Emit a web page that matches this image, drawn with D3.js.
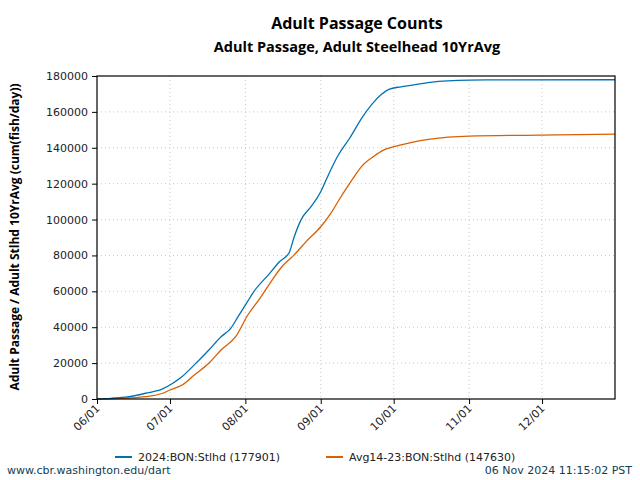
<!DOCTYPE html>
<html>
<head>
<meta charset="utf-8">
<script src="https://cdn.jsdelivr.net/npm/d3@7"></script>
<style>
  body { margin: 0; background: #fff; }
  svg { display: block; }
</style>
</head>
<body>
<svg id="chart"></svg>
<script>
// day offsets from Jun 1 and cumulative counts
var days2024 = [0, 6, 13, 20, 27, 31, 35, 40, 46, 51, 55, 58, 62, 64, 71, 75, 79, 81, 84, 88, 92, 94, 99, 104, 109, 113, 117, 120, 125, 129, 137, 153, 166, 213];
var vals2024 = [0, 400, 1300, 3200, 5600, 8600, 12500, 19000, 27300, 34700, 39400, 45900, 54500, 58900, 70000, 76500, 81500, 90000, 100100, 107200, 115500, 121500, 135400, 145600, 156800, 164200, 169800, 172600, 174000, 174800, 176500, 177700, 177850, 177901];

var daysAvg = [0, 13, 20, 27, 30, 35, 40, 46, 51, 57, 62, 67, 72, 76, 81, 86, 92, 96, 100, 105, 109, 114, 118, 122, 129, 137, 153, 182, 213];
var valsAvg = [0, 550, 1300, 3200, 5000, 7800, 13400, 19900, 27300, 34700, 46800, 56100, 66300, 73700, 80200, 87700, 96000, 103200, 112000, 122400, 129900, 135400, 138800, 140600, 142900, 144800, 146500, 147100, 147630];

var xTickLabels = ["06/01", "07/01", "08/01", "09/01", "10/01", "11/01", "12/01"];
var yTicks = [0, 20000, 40000, 60000, 80000, 100000, 120000, 140000, 160000, 180000];
var seriesNames = ["2024:BON:Stlhd (177901)", "Avg14-23:BON:Stlhd (147630)"];
var seriesColors = ["#0072b2", "#d95f02"];

var w = 640, h = 480;
var margin = { top: 76, bottom: 81, left: 97, right: 25 };

var svg = d3.select("#chart").attr("width", w).attr("height", h);

var start = new Date(2024, 5, 1);
function toDate(d) { return d3.timeDay.offset(start, d); }

var xScale = d3.scaleTime()
  .domain([start, new Date(2024, 11, 31)])
  .range([margin.left, w - margin.right]);

var yScale = d3.scaleLinear()
  .domain([0, 180000])
  .range([h - margin.bottom, margin.top]);

var xTickDates = xTickLabels.map(function(s) {
  return new Date(2024, +s.slice(0, 2) - 1, 1);
});

// grid
svg.append("g")
  .selectAll("line.vg")
  .data(xTickDates.slice(1))
  .enter().append("line")
  .attr("x1", function(d) { return xScale(d); })
  .attr("x2", function(d) { return xScale(d); })
  .attr("y1", margin.top)
  .attr("y2", h - margin.bottom)
  .attr("stroke", "#c8c8c8")
  .attr("stroke-dasharray", "1,3");

svg.append("g")
  .selectAll("line.hg")
  .data(yTicks.slice(1, -1))
  .enter().append("line")
  .attr("x1", margin.left)
  .attr("x2", w - margin.right)
  .attr("y1", function(d) { return yScale(d); })
  .attr("y2", function(d) { return yScale(d); })
  .attr("stroke", "#c8c8c8")
  .attr("stroke-dasharray", "1,3");

// lines
var line = d3.line()
  .x(function(d) { return xScale(toDate(d[0])); })
  .y(function(d) { return yScale(d[1]); })
  .curve(d3.curveMonotoneX);

svg.append("path")
  .datum(daysAvg.map(function(d, i) { return [d, valsAvg[i]]; }))
  .attr("fill", "none")
  .attr("stroke", seriesColors[1])
  .attr("stroke-width", 1.3)
  .attr("d", line);

svg.append("path")
  .datum(days2024.map(function(d, i) { return [d, vals2024[i]]; }))
  .attr("fill", "none")
  .attr("stroke", seriesColors[0])
  .attr("stroke-width", 1.3)
  .attr("d", line);

// frame
svg.append("rect")
  .attr("x", margin.left)
  .attr("y", margin.top)
  .attr("width", w - margin.left - margin.right)
  .attr("height", h - margin.top - margin.bottom)
  .attr("fill", "none")
  .attr("stroke", "#000")
  .attr("stroke-width", 1.2);

// axes
var yAxis = d3.axisLeft(yScale).tickValues(yTicks).tickSize(5).tickPadding(4)
  .tickFormat(d3.format("d"));
var xAxis = d3.axisBottom(xScale).tickValues(xTickDates).tickSize(5)
  .tickFormat(function(d, i) { return xTickLabels[i]; });

var gy = svg.append("g")
  .attr("transform", "translate(" + margin.left + ",0)")
  .call(yAxis);
gy.select(".domain").remove();
gy.selectAll("text")
  .attr("font-family", "DejaVu Sans")
  .attr("font-size", 11)
  .attr("fill", "#222");

var gx = svg.append("g")
  .attr("transform", "translate(0," + (h - margin.bottom) + ")")
  .call(xAxis);
gx.select(".domain").remove();
gx.selectAll("text")
  .attr("font-family", "DejaVu Sans")
  .attr("font-size", 11)
  .attr("fill", "#222")
  .attr("text-anchor", "end")
  .attr("dy", null)
  .attr("y", null)
  .attr("transform", "translate(3,10) rotate(-45)");

// titles
svg.append("text")
  .attr("x", 357).attr("y", 29)
  .attr("text-anchor", "middle")
  .attr("font-family", "Open Sans")
  .attr("font-weight", "bold")
  .attr("font-size", 16)
  .text("Adult Passage Counts");

svg.append("text")
  .attr("x", 357).attr("y", 52)
  .attr("text-anchor", "middle")
  .attr("font-family", "Open Sans")
  .attr("font-weight", "bold")
  .attr("font-size", 14.5)
  .text("Adult Passage, Adult Steelhead 10YrAvg");

svg.append("text")
  .attr("transform", "translate(19,237) rotate(-90)")
  .attr("text-anchor", "middle")
  .attr("font-family", "Open Sans")
  .attr("font-weight", "bold")
  .attr("font-size", 12)
  .text("Adult Passage / Adult Stlhd 10YrAvg (cum(fish/day))");

// legend
var legendX = [115, 326];
seriesNames.forEach(function(name, i) {
  svg.append("line")
    .attr("x1", legendX[i]).attr("x2", legendX[i] + 17)
    .attr("y1", 457).attr("y2", 457)
    .attr("stroke", seriesColors[i])
    .attr("stroke-width", 2);
  svg.append("text")
    .attr("x", legendX[i] + 23).attr("y", 461)
    .attr("font-family", "DejaVu Sans")
    .attr("font-size", 11)
    .attr("fill", "#222")
    .text(name);
});

// footer
svg.append("text")
  .attr("x", 7).attr("y", 474)
  .attr("font-family", "DejaVu Sans")
  .attr("font-size", 11)
  .attr("fill", "#123d55")
  .text("www.cbr.washington.edu/dart");

svg.append("text")
  .attr("x", 632).attr("y", 474)
  .attr("text-anchor", "end")
  .attr("font-family", "DejaVu Sans")
  .attr("font-size", 11)
  .attr("fill", "#123d55")
  .text("06 Nov 2024 11:15:02 PST");
</script>
</body>
</html>
